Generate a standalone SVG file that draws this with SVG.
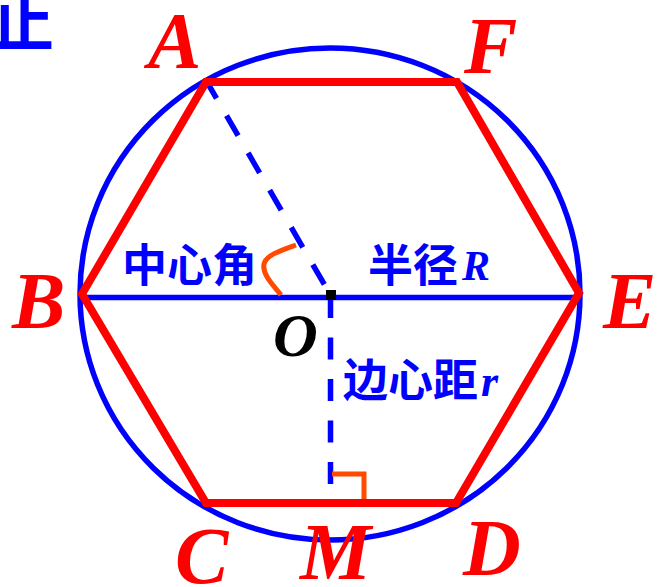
<svg xmlns="http://www.w3.org/2000/svg" width="661" height="587" viewBox="0 0 661 587">
<style>
.lbl{font-family:"Liberation Serif","Times New Roman",serif;font-weight:bold;font-style:italic;fill:#ff0000;font-size:80px}
.cjk{font-family:"Noto Sans CJK SC","Noto Sans",sans-serif;font-weight:bold;fill:#0000ff;font-size:45px}
.var{font-family:"Liberation Serif","Times New Roman",serif;font-weight:bold;font-style:italic;fill:#0000ff}
.blue{fill:none;stroke:#0000ff;stroke-width:5.5}
.red{fill:none;stroke:#ff0000;stroke-width:8;stroke-linejoin:miter}
.orange{fill:none;stroke:#ff4a00;stroke-width:5}
</style>
<rect width="661" height="587" fill="#ffffff"/>
<text x="-10" y="46" class="cjk" style="font-size:64px">止</text>
<g id="circle">
<ellipse cx="330" cy="294" rx="250" ry="246" class="blue"/>
</g>
<g id="connectors">
<line x1="82" y1="297.5" x2="578" y2="297.5" class="blue"/>
<line x1="207" y1="82" x2="331" y2="296" class="blue" stroke-dasharray="23 20" stroke-dashoffset="4"/>
<line x1="330.5" y1="296" x2="330.5" y2="488" class="blue" stroke-dasharray="22 19.5"/>
<path d="M281,295 C272,284 262,274 264,264 C266,255 282,250 296,245" class="orange"/>
<path d="M332,474 L364,474 L364,503" class="orange"/>
</g>
<g id="hexagon">
<polygon points="206,82 457,82 579,293 456,503 206,503 82,294" class="red"/>
</g>
<g id="center">
<rect x="326" y="290" width="10" height="10" fill="#000000"/>
<text x="273" y="356" class="lbl" style="fill:#000000;font-size:62px">O</text>
</g>
<g id="node-A"><text x="148" y="68" class="lbl">A</text></g>
<g id="node-F"><text x="464" y="73" class="lbl">F</text></g>
<g id="node-B"><text x="12" y="328" class="lbl">B</text></g>
<g id="node-E"><text x="603" y="328" class="lbl">E</text></g>
<g id="node-C"><text x="175" y="583" class="lbl">C</text></g>
<g id="node-M"><text x="300" y="579" class="lbl">M</text></g>
<g id="node-D"><text x="463" y="575" class="lbl">D</text></g>
<g id="label-angle"><text x="122" y="282" class="cjk">中心角</text></g>
<g id="label-radius"><text x="368" y="282" class="cjk">半径</text><text x="462" y="280" class="var" style="font-size:42px">R</text></g>
<g id="label-apothem"><text x="343" y="397" class="cjk">边心距</text><text x="481" y="396" class="var" style="font-size:44px">r</text></g>
</svg>
